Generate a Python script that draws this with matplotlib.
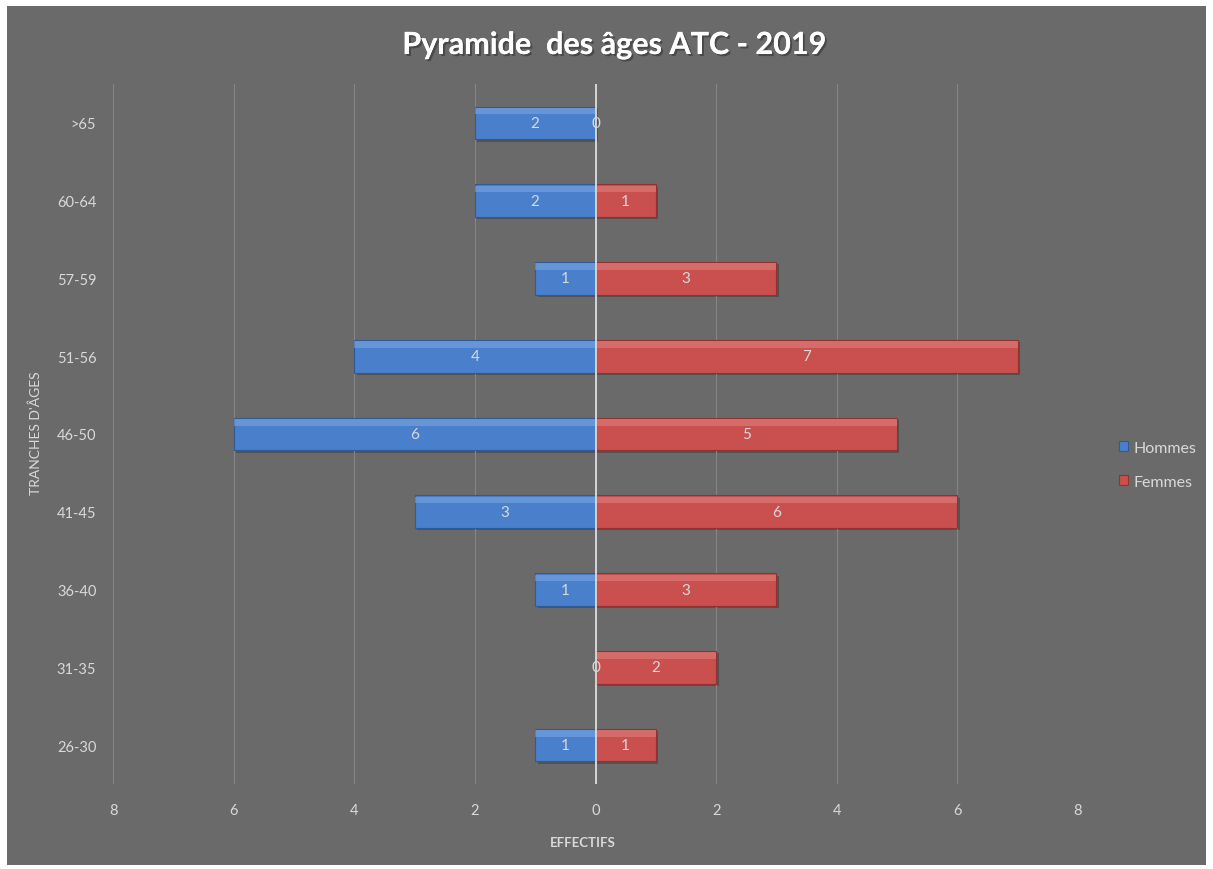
"""Pyramide des âges ATC - 2019."""

import matplotlib

matplotlib.use("Agg")
matplotlib.rcParams["font.family"] = ["Lato", "DejaVu Sans"]
import matplotlib.pyplot as plt
import matplotlib.patheffects as pe
import numpy as np
from matplotlib.patches import Rectangle

tranches = ["26-30", "31-35", "36-40", "41-45", "46-50", "51-56", "57-59", "60-64", ">65"]
hommes = [1, 0, 1, 3, 6, 4, 1, 2, 2]
femmes = [1, 2, 3, 6, 5, 7, 3, 1, 0]
x_ticks = [-8, -6, -4, -2, 0, 2, 4, 6, 8]

BG = "#6a6a6a"
TXT = "#d9d9d9"
BLUE, BLUE_DARK, BLUE_LIGHT = "#4a7fcb", "#2f5a96", "#8ab3e8"
RED, RED_DARK, RED_LIGHT = "#c9504e", "#8f3230", "#e88f8c"

fig = plt.figure(figsize=(12.13, 8.70), dpi=100, facecolor="white")
fig.patches.append(Rectangle((7 / 1213, 4 / 870), 1199 / 1213, 859 / 870,
                             transform=fig.transFigure, facecolor=BG, edgecolor="none", zorder=-10))
ax = fig.add_axes([113 / 1213, 85 / 870, 965 / 1213, 700 / 870])
ax.set_facecolor(BG)
ax.patch.set_alpha(0)

y = np.arange(len(tranches))
h = 0.42
neg_h = -np.array(hommes)
fem = np.array(femmes)

# ombre
ax.barh(y - 0.03, neg_h, height=h, left=0.04, color="#3c3c3c", alpha=0.5, zorder=1)
ax.barh(y - 0.03, fem, height=h, left=0.04, color="#3c3c3c", alpha=0.5, zorder=1)
ax.barh(y, neg_h, height=h, color=BLUE, edgecolor=BLUE_DARK, linewidth=0.8, zorder=2, label="Hommes")
ax.barh(y, fem, height=h, color=RED, edgecolor=RED_DARK, linewidth=0.8, zorder=2, label="Femmes")
# reflet biseauté en haut
ax.barh(y + h * 0.36, neg_h, height=h * 0.2, color=BLUE_LIGHT, alpha=0.45, linewidth=0, zorder=3)
ax.barh(y + h * 0.36, fem, height=h * 0.2, color=RED_LIGHT, alpha=0.45, linewidth=0, zorder=3)

for yi, hv, fv in zip(y, hommes, femmes):
    ax.text(-hv / 2, yi, str(hv), ha="center", va="center", color=TXT, fontsize=11, zorder=5)
    ax.text(fv / 2, yi, str(fv), ha="center", va="center", color=TXT, fontsize=11, zorder=5)

ax.set_xlim(-8, 8)
ax.set_ylim(-0.5, len(tranches) - 0.5)
ax.set_xticks(x_ticks)
ax.set_xticklabels([str(abs(t)) for t in x_ticks])
ax.set_yticks(y)
ax.set_yticklabels(tranches)
ax.tick_params(colors=TXT, labelsize=10.5, length=0)
ax.tick_params(axis="x", pad=14)
ax.tick_params(axis="y", pad=12)
ax.grid(axis="x", color="#858585", linewidth=0.8, zorder=0)
ax.axvline(0, color="#dcdcdc", linewidth=1.3, zorder=4)
for s in ax.spines.values():
    s.set_visible(False)

fig.text(583 / 1213, 1 - 843 / 870, "EFFECTIFS", ha="center", va="center",
         color=TXT, fontsize=9.5, fontweight="bold")
fig.text(36 / 1213, 1 - 433 / 870, "TRANCHES D'ÂGES", rotation=90, ha="center", va="center",
         color=TXT, fontsize=10)
fig.text(614 / 1213, 1 - 46 / 870, "Pyramide  des âges ATC - 2019", ha="center", va="center",
         color="white", fontsize=22, fontweight="bold",
         path_effects=[pe.withSimplePatchShadow(offset=(1.5, -1.5), shadow_rgbFace="#333333", alpha=0.6),
                       pe.Normal()])

leg = ax.legend(loc="center left", bbox_to_anchor=(1.028, 0.456), frameon=False, fontsize=11.5,
                handlelength=0.55, handleheight=0.55, handletextpad=0.35, labelspacing=1.25)
for t in leg.get_texts():
    t.set_color(TXT)

fig.savefig("out.png", dpi=100, facecolor="white")
